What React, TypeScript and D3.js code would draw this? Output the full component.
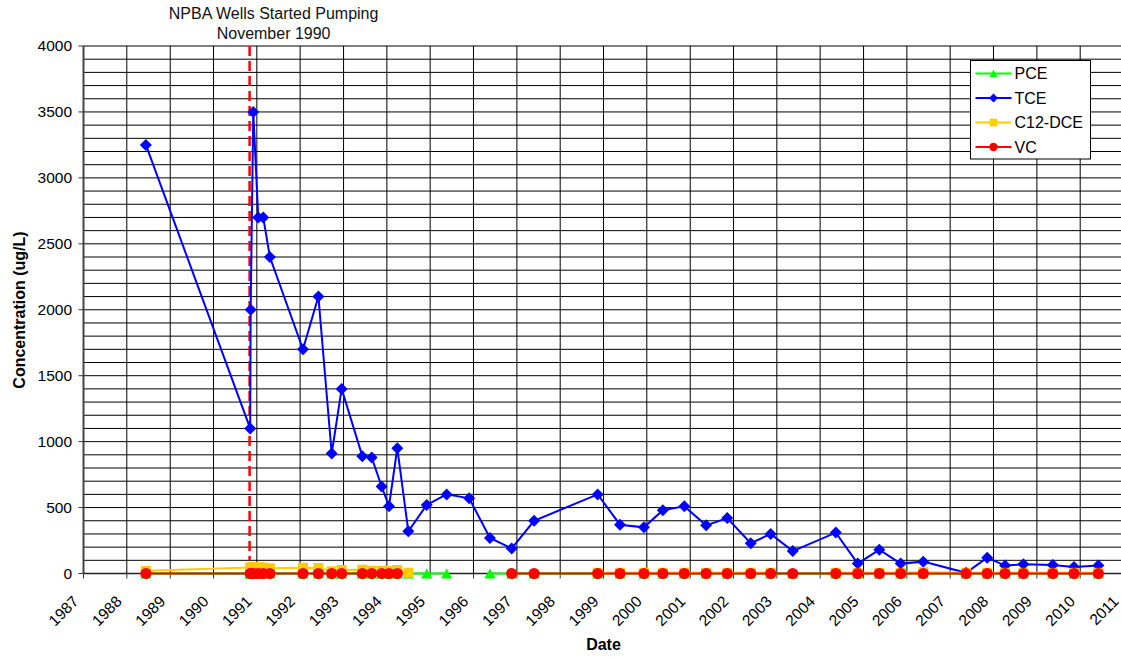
import * as d3 from "d3";

// sampling dates (one row per sampling event)
const dates = [
  "1988-06-10", "1990-11-06", "1990-11-10", "1990-12-02", "1991-01-13",
  "1991-02-24", "1991-04-21", "1992-01-25", "1992-06-03", "1992-09-23",
  "1992-12-16", "1993-06-08", "1993-08-26", "1993-11-18", "1994-01-19",
  "1994-03-30", "1994-07-01", "1994-12-03", "1995-05-20", "1995-11-26",
  "1996-05-19", "1996-11-18", "1997-05-26", "1998-11-13", "1999-05-20",
  "1999-12-08", "2000-05-15", "2000-11-12", "2001-05-15", "2001-11-09",
  "2002-05-26", "2002-11-10", "2003-05-15", "2004-05-12", "2004-11-13",
  "2005-05-14", "2005-11-10", "2006-05-19", "2007-05-15", "2007-11-09",
  "2008-04-08", "2008-09-09", "2009-05-15", "2009-11-10", "2010-06-03",
];

// concentrations in ug/L, null = not sampled
const pce = [
  0, 0, 0, 0, 0, 0, 0, 0, 0, 0,
  0, 0, 0, 0, 0, 0, 0, 0, 0, null,
  0, 0, 0, 0, 0, 0, 0, 0, 0, 0,
  0, 0, 0, 0, 0, 0, 0, 0, 0, 0,
  0, 0, 0, 0, 0,
];
const tce = [
  3250, 1100, 2000, 3500, 2700, 2700, 2400, 1700, 2100, 910,
  1400, 890, 880, 660, 510, 950, 320, 520, 600, 570,
  270, 190, 400, 600, 370, 350, 480, 510, 365, 420,
  230, 300, 170, 310, 75, 180, 75, 90, 5, 120,
  60, 70, 65, 50, 60,
];
const c12dce = [
  20, 45, 45, 48, 48, 45, 40, 44, 42, 17,
  27, 29, 21, 21, 21, 27, 6, null, null, null,
  null, null, null, 5, 5, 5, 5, 5, 5, 5,
  5, 5, null, 5, 5, 5, 5, 10, 5, 5,
  5, 5, 5, 5, 5,
];
const vc = [
  0, 0, 0, 0, 0, 0, 0, 0, 0, 0,
  0, 0, 0, 0, 0, 0, null, null, null, null,
  null, 0, 0, 0, 0, 0, 0, 0, 0, 0,
  0, 0, 0, 0, 0, 0, 0, 0, 0, 0,
  0, 0, 0, 0, 0,
];

const years = d3.range(1987, 2012);
const yTicks = d3.range(0, 4001, 500);
const yGrid = d3.range(100, 4001, 100);
const pumpingStart = "1990-11-01";
const noteLines = ["NPBA Wells Started Pumping", "November 1990"];

const width = 1121;
const height = 658;
const marginLeft = 83.5;
const plotRight = 1123.5; // the original picture is cut off on the right
const marginTop = 46;
const plotBottom = 573.5;
const font = "'Liberation Sans', Arial, sans-serif";

const series = [
  {name: "PCE", values: pce, color: "#00FF00", shape: "triangle"},
  {name: "TCE", values: tce, color: "#0000FF", shape: "diamond"},
  {name: "C12-DCE", values: c12dce, color: "#FFCC00", shape: "square"},
  {name: "VC", values: vc, color: "#FF0000", shape: "circle"},
];

const Marker = ({shape, cx, cy, s = 1, color}) => {
  if (shape === "circle") return <circle cx={cx} cy={cy} r={5.6 * s} fill={color} />;
  if (shape === "square")
    return <rect x={cx - 5 * s} y={cy - 5 * s} width={10 * s} height={10 * s} fill={color} />;
  if (shape === "diamond") {
    const r = 6 * s;
    return <path d={`M${cx},${cy - r}L${cx + r},${cy}L${cx},${cy + r}L${cx - r},${cy}Z`} fill={color} />;
  }
  const w = 5.6 * s, h = 5 * s;
  return <path d={`M${cx},${cy - h}L${cx + w},${cy + h}L${cx - w},${cy + h}Z`} fill={color} />;
};

const App = () => {
  const parse = d3.timeParse("%Y-%m-%d");
  const days = dates.map(parse);
  const x = d3.scaleTime([new Date(1987, 0, 1), new Date(2011, 0, 1)], [marginLeft, plotRight]);
  const y = d3.scaleLinear([0, 4000], [plotBottom, marginTop]);
  const pumpX = x(parse(pumpingStart));

  const line = d3.line()
    .defined(d => d[1] != null)
    .x(d => x(d[0]))
    .y(d => y(d[1]));

  return (
    <svg width={width} height={height} style={{position: "absolute", left: 0, top: 0, background: "#fff"}}
      fontFamily={font}>
      {/* grid */}
      <g stroke="#000" strokeWidth="1">
        {yGrid.map(v => <line key={v} x1={marginLeft} x2={plotRight} y1={y(v)} y2={y(v)} />)}
        {years.slice(1).map(yr => {
          const px = x(new Date(yr, 0, 1));
          return <line key={yr} x1={px} x2={px} y1={marginTop} y2={plotBottom} />;
        })}
      </g>

      {/* axes */}
      <line x1={marginLeft} x2={marginLeft} y1={marginTop} y2={plotBottom} stroke="#444" strokeWidth="2" />
      <line x1={marginLeft} x2={plotRight} y1={plotBottom} y2={plotBottom} stroke="#222" strokeWidth="1.5" />
      <g stroke="#333" strokeWidth="1">
        {yTicks.map(v => <line key={v} x1={marginLeft - 5} x2={marginLeft} y1={y(v)} y2={y(v)} />)}
        {years.map(yr => {
          const px = x(new Date(yr, 0, 1));
          return <line key={yr} x1={px} x2={px} y1={plotBottom} y2={plotBottom + 5} />;
        })}
      </g>
      <g fontSize="15.5" fill="#000" textAnchor="end">
        {yTicks.map(v => <text key={v} x={72} y={y(v)} dy="0.35em">{v}</text>)}
        {years.map(yr => (
          <text key={yr} transform={`translate(${x(new Date(yr, 0, 1)) - 4},${plotBottom + 29}) rotate(-45)`}>{yr}</text>
        ))}
      </g>
      <text x={603.5} y={650} fontSize="16" fontWeight="bold" textAnchor="middle">Date</text>
      <text transform="translate(24.5,310) rotate(-90)" fontSize="16" fontWeight="bold" textAnchor="middle">
        Concentration (ug/L)
      </text>

      {/* pumping start */}
      <line x1={pumpX} x2={pumpX} y1={marginTop} y2={560} stroke="#FF0000" strokeWidth="2.5" strokeDasharray="10,5" />
      <g fontSize="16" textAnchor="middle" fill="#111">
        {noteLines.map((t, i) => <text key={i} x={pumpX + 24} y={18.5 + i * 20.5}>{t}</text>)}
      </g>

      {/* series */}
      {series.map(s => {
        const pts = days.map((d, i) => [d, s.values[i]]);
        return (
          <g key={s.name}>
            <path d={line(pts)} fill="none" stroke={s.color} strokeWidth="2" />
            {pts.filter(p => p[1] != null).map((p, i) => (
              <Marker key={i} shape={s.shape} cx={x(p[0])} cy={y(p[1])} color={s.color} />
            ))}
          </g>
        );
      })}

      {/* legend */}
      <g transform="translate(970.5,60.5)">
        <rect width={120} height={98.5} fill="#fff" stroke="#000" strokeWidth="1" />
        {series.map((s, i) => {
          const ly = 13 + i * 24.5;
          return (
            <g key={s.name}>
              <line x1={5} x2={41} y1={ly} y2={ly} stroke={s.color} strokeWidth="2" />
              <Marker shape={s.shape} cx={23} cy={ly} s={0.75} color={s.color} />
              <text x={44} y={ly} dy="0.36em" fontSize="16">{s.name}</text>
            </g>
          );
        })}
      </g>
    </svg>
  );
};

export default App;
